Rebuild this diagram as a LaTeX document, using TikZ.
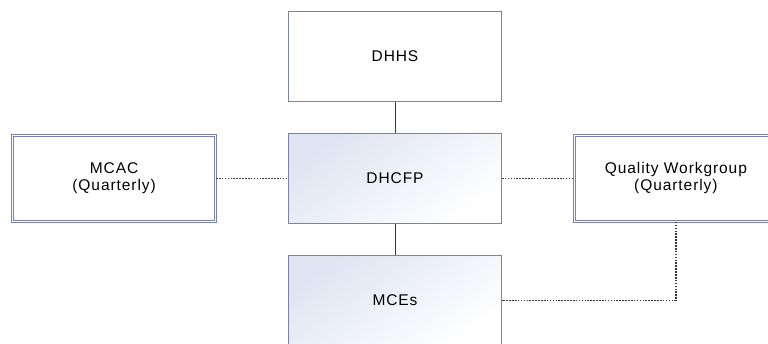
\documentclass[tikz,border=0pt]{standalone}
\usepackage{fontspec}
\setmainfont{Liberation Sans}[LetterSpace=6]
\usetikzlibrary{positioning}
\definecolor{boxline}{RGB}{120,130,172}
\definecolor{boxshade}{RGB}{222,228,242}
\definecolor{linkcol}{RGB}{55,55,60}
\begin{document}
\begin{tikzpicture}[node distance=31pt, font=\fontsize{15.5}{17}\selectfont]
        \tikzstyle{org}=[draw=boxline, line width=0.9pt, rectangle, fill=white, minimum width=213pt, minimum height=90pt, align=center, inner sep=0pt];
        \tikzstyle{orgshade}=[org, top color=boxshade, bottom color=white, shading angle=35];
        \tikzstyle{panel}=[org, double=white, double distance=1.6pt, minimum width=203pt, minimum height=86pt];
        \tikzstyle{link}=[draw=linkcol, line width=0.9pt];
        \tikzstyle{loose}=[link, dash pattern=on 1.6pt off 1.3pt, line width=1.2pt];

        \useasboundingbox (0,0) rectangle (768pt,-343pt);
        \clip (0,0) rectangle (768pt,-343pt);

        \node[org] (dhhs) at (395pt,-56.5pt) {DHHS};
        \node[orgshade, below=of dhhs] (dhcfp) {DHCFP};
        \node[orgshade, below=of dhcfp] (mce) {MCEs};
        \node[panel, left=72pt of dhcfp] (mcac) {MCAC\\(Quarterly)};
        \node[panel, right=72pt of dhcfp] (qw) {Quality Workgroup\\(Quarterly)};

        \draw[link] (dhhs) -- (dhcfp);
        \draw[link] (dhcfp) -- (mce);
        \draw[loose] (mcac) -- (dhcfp);
        \draw[loose] (dhcfp) -- (qw);
        \draw[loose] (qw.south) |- (mce.east);
    \end{tikzpicture}
\end{document}
